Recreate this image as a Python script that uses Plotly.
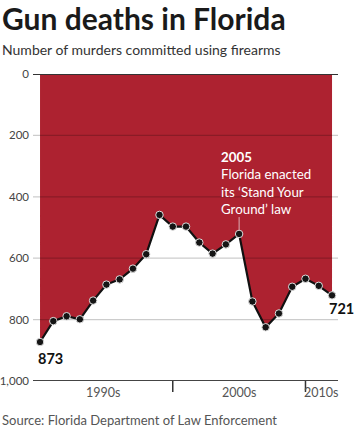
import plotly.graph_objects as go

years = list(range(1990, 2013))
murders = [873, 805, 789, 799, 738, 686, 669, 634, 587, 459, 497, 497,
           549, 585, 555, 521, 741, 825, 780, 693, 667, 690, 721]
y_ticks = [0, 200, 400, 600, 800, 1000]
y_tick_labels = ["0", "200", "400", "600", "800", "1,000"]
decade_ticks = [2000, 2010]
decade_labels = ["1990s", "2000s", "2010s"]
decade_centers = [1994.75, 2005, 2011.2]

RED = "#AD2230"
FONT = "Lato"

fig = go.Figure()
fig.add_trace(go.Scatter(x=years, y=[0] * len(years), mode="lines",
                         line=dict(width=0, color=RED), hoverinfo="skip",
                         showlegend=False))
fig.add_trace(go.Scatter(x=years, y=murders, mode="lines", fill="tonexty",
                         fillcolor=RED, line=dict(width=0, color=RED),
                         hoverinfo="skip", showlegend=False))
fig.add_trace(go.Scatter(x=years, y=murders, mode="lines+markers",
                         line=dict(color="#111111", width=2.2),
                         marker=dict(size=7.5, color="#151515",
                                     line=dict(color="#dddddd", width=1)),
                         showlegend=False))

shapes = []
for t in y_ticks[1:-1]:
    shapes.append(dict(type="line", xref="paper", yref="y", x0=0, x1=1,
                       y0=t, y1=t, layer="above",
                       line=dict(color="rgba(0,0,0,0.2)", width=1.3)))
shapes.append(dict(type="line", xref="paper", yref="y", x0=0, x1=1,
                   y0=y_ticks[0], y1=y_ticks[0], layer="above",
                   line=dict(color="#333333", width=1.8)))
shapes.append(dict(type="line", xref="paper", yref="y", x0=0, x1=1,
                   y0=y_ticks[-1], y1=y_ticks[-1], layer="above",
                   line=dict(color="#444444", width=1.8)))
for d in decade_ticks:
    shapes.append(dict(type="line", xref="x", yref="paper", x0=d, x1=d,
                       y0=0, y1=-11 / 307, layer="above",
                       line=dict(color="#333333", width=1.5)))
i05 = years.index(2005)
shapes.append(dict(type="line", xref="x", yref="y", x0=2005, x1=2005,
                   y0=murders[i05] - 10, y1=murders[i05] - 55, layer="above",
                   line=dict(color="#d9b0b4", width=1)))

annotations = []
for c, lab in zip(decade_centers, decade_labels):
    annotations.append(dict(x=c, y=-0.005, xref="x", yref="paper", text=lab,
                            showarrow=False, yanchor="top",
                            font=dict(family=FONT, size=12.5, color="#555555")))
annotations.append(dict(x=years[0], y=murders[0] + 18, xref="x", yref="y",
                        text="<b>873</b>", showarrow=False, xanchor="left",
                        yanchor="top", xshift=-4,
                        font=dict(family=FONT, size=14.5, color="#111111")))
annotations.append(dict(x=years[-1], y=murders[-1], xref="x", yref="y",
                        text="<b>721</b>", showarrow=False, xanchor="left",
                        yanchor="top", xshift=-5, yshift=-3,
                        font=dict(family=FONT, size=14.5, color="#111111")))
annotations.append(dict(x=2005, y=murders[i05] - 50, xref="x", yref="y",
                        text="<b>2005</b><br>Florida enacted<br>its \u2018Stand Your<br>Ground\u2019 law",
                        showarrow=False, xanchor="left", yanchor="bottom",
                        align="left", xshift=-20,
                        font=dict(family=FONT, size=13.3, color="white")))
annotations.append(dict(x=0, y=1, xref="paper", yref="paper", text="<b>Gun deaths in Florida</b>",
                        showarrow=False, xanchor="left", yanchor="top",
                        xshift=-33, yshift=76,
                        font=dict(family=FONT, size=30, color="#1a1a1a")))
annotations.append(dict(text="Number of murders committed using firearms",
                        x=0, y=1, xref="paper", yref="paper", showarrow=False,
                        xanchor="left", yanchor="top", xshift=-33, yshift=35,
                        font=dict(family=FONT, size=14, color="#333333")))
annotations.append(dict(text="Source: Florida Department of Law Enforcement",
                        x=0, y=0, xref="paper", yref="paper", showarrow=False,
                        xanchor="left", yanchor="top", xshift=-33, yshift=-29,
                        font=dict(family=FONT, size=13, color="#555555")))

fig.update_layout(
    template="none",
    width=358, height=428,
    margin=dict(l=33, r=20, t=74, b=47, autoexpand=False),
    paper_bgcolor="white", plot_bgcolor="white",
    xaxis=dict(range=[1989.47, 2012.45], showgrid=False, zeroline=False,
               showticklabels=False, ticks="", fixedrange=True,
               automargin=False, showline=False),
    yaxis=dict(range=[1000, 0], tickvals=y_ticks, ticktext=y_tick_labels,
               showgrid=False, zeroline=False, ticks="", automargin=False,
               showline=False, ticklabelstandoff=3,
               tickfont=dict(family=FONT, size=11.5, color="#444444")),
    shapes=shapes, annotations=annotations,
)

fig.write_html("out.html", config={"displayModeBar": False},
               post_script="document.body.style.margin='0';document.body.style.overflow='hidden';")
